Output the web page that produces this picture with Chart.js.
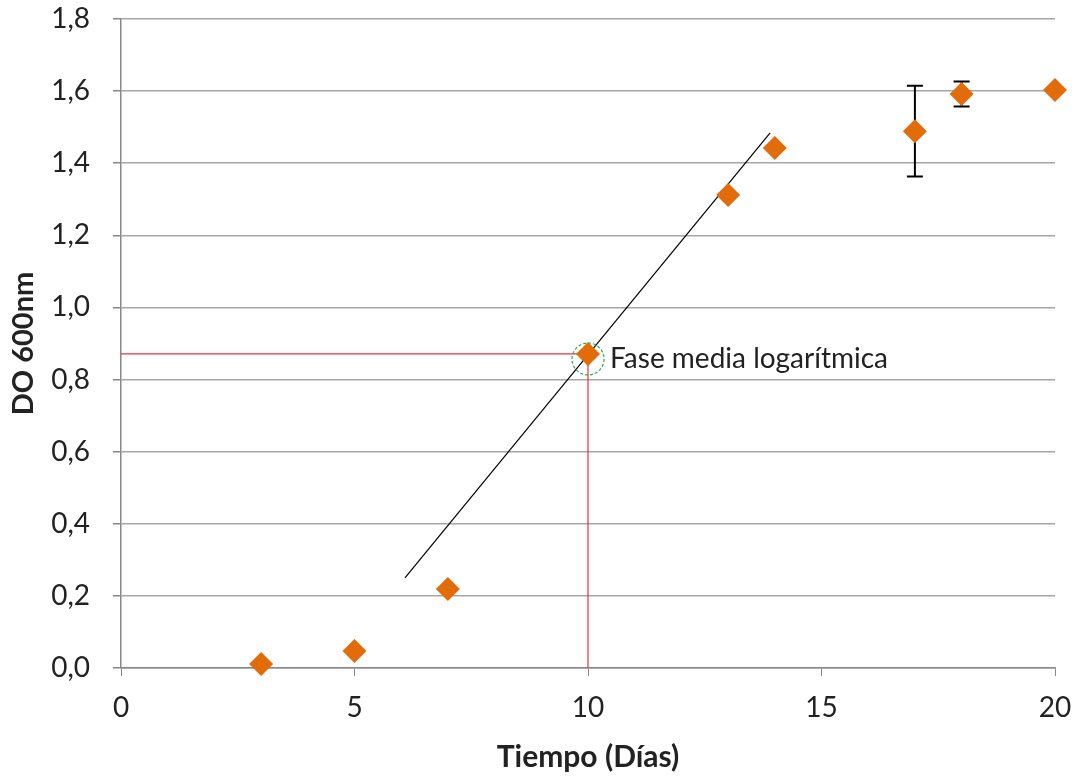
<!DOCTYPE html>
<html><head><meta charset="utf-8">
<script src="https://cdn.jsdelivr.net/npm/chart.js@4.4.1/dist/chart.umd.min.js"></script>
<style>html,body{margin:0;padding:0;background:#fff;overflow:hidden}#c{display:block}</style>
</head><body><canvas id="c" width="1078" height="776"></canvas>
<script>
const days = [3, 5, 7, 10, 13, 14, 17, 18, 20];
const od600 = [0.011, 0.047, 0.219, 0.871, 1.312, 1.442, 1.489, 1.592, 1.603];
const odError = [0, 0, 0, 0, 0, 0, 0.126, 0.035, 0];
const trendX = [6.08, 13.9];
const trendY = [0.25, 1.484];
const midDay = 10;
const midOD = 0.871;
const annotationText = 'Fase media logarítmica';
const xTicks = [0, 5, 10, 15, 20];
const yTicks = [0, 0.2, 0.4, 0.6, 0.8, 1.0, 1.2, 1.4, 1.6, 1.8];

const FONT = 'Lato, "Open Sans", sans-serif';
const ORANGE = '#E36C0A';

const overlay = {
  id: 'overlay',
  beforeDatasetsDraw(chart) {
    const {ctx, scales: {x, y}} = chart;
    ctx.save();
    ctx.strokeStyle = '#F0303A';
    ctx.lineWidth = 1.2;
    ctx.beginPath();
    ctx.moveTo(x.getPixelForValue(0), y.getPixelForValue(midOD));
    ctx.lineTo(x.getPixelForValue(midDay), y.getPixelForValue(midOD));
    ctx.lineTo(x.getPixelForValue(midDay), y.getPixelForValue(0));
    ctx.stroke();
    ctx.strokeStyle = '#000';
    ctx.lineWidth = 1.2;
    ctx.beginPath();
    ctx.moveTo(x.getPixelForValue(trendX[0]), y.getPixelForValue(trendY[0]));
    ctx.lineTo(x.getPixelForValue(trendX[1]), y.getPixelForValue(trendY[1]));
    ctx.stroke();
    ctx.strokeStyle = '#000';
    ctx.lineWidth = 2;
    days.forEach((d, i) => {
      const e = odError[i];
      if (!e) return;
      const px = x.getPixelForValue(d);
      const top = y.getPixelForValue(od600[i] + e);
      const bot = y.getPixelForValue(od600[i] - e);
      ctx.beginPath();
      ctx.moveTo(px, top); ctx.lineTo(px, bot);
      ctx.moveTo(px - 8, top); ctx.lineTo(px + 8, top);
      ctx.moveTo(px - 8, bot); ctx.lineTo(px + 8, bot);
      ctx.stroke();
    });
    ctx.restore();
  },
  afterDatasetsDraw(chart) {
    const {ctx, scales: {x, y}} = chart;
    ctx.save();
    const cx = x.getPixelForValue(midDay);
    const cy = y.getPixelForValue(midOD) + 5;
    ctx.strokeStyle = '#22B14C';
    ctx.lineWidth = 1.2;
    ctx.setLineDash([3, 2]);
    ctx.beginPath();
    ctx.arc(cx, cy, 16, 0, Math.PI * 2);
    ctx.stroke();
    ctx.setLineDash([]);
    ctx.fillStyle = '#222';
    ctx.font = '28px ' + FONT;
    ctx.textBaseline = 'middle';
    ctx.textAlign = 'left';
    ctx.fillText(annotationText, cx + 22, cy);
    ctx.restore();
  }
};

new Chart(document.getElementById('c'), {
  type: 'scatter',
  data: {
    datasets: [{
      data: days.map((d, i) => ({x: d, y: od600[i]})),
      pointStyle: 'rectRot',
      pointRadius: 12,
      pointHoverRadius: 12,
      backgroundColor: ORANGE,
      borderColor: ORANGE,
      borderWidth: 0,
      clip: false
    }]
  },
  options: {
    responsive: false,
    animation: false,
    devicePixelRatio: 1,
    layout: {padding: {left: 0, right: 23, top: 19, bottom: 0}},
    plugins: {legend: {display: false}, tooltip: {enabled: false}},
    scales: {
      x: {
        type: 'linear', min: 0, max: 20,
        afterBuildTicks: s => { s.ticks = xTicks.map(v => ({value: v})); },
        afterFit: s => { s.height = 108; s.paddingLeft = 0; s.paddingRight = 0; },
        grid: {drawOnChartArea: false, drawTicks: true, tickLength: 8, tickColor: '#888'},
        border: {color: '#888', width: 1.5},
        ticks: {font: {size: 28, family: FONT}, color: '#222', padding: 15, maxRotation: 0},
        title: {display: true, text: 'Tiempo (Días)', font: {size: 30, weight: 'bold', family: FONT}, color: '#222', padding: {top: 0, bottom: 1}}
      },
      y: {
        type: 'linear', min: 0, max: 1.8,
        afterBuildTicks: s => { s.ticks = yTicks.map(v => ({value: v})); },
        afterFit: s => { s.width = 121; s.paddingTop = 0; s.paddingBottom = 0; },
        grid: {color: '#A6A6A6', lineWidth: 1.5, tickLength: 8, tickColor: '#888'},
        border: {color: '#888', width: 1.5},
        ticks: {font: {size: 28, family: FONT}, color: '#222', padding: 23,
          callback: v => v.toFixed(1).replace('.', ',')},
        title: {display: true, text: 'DO 600nm', font: {size: 29, weight: 'bold', family: FONT}, color: '#222', padding: {top: 6, bottom: 0}}
      }
    }
  },
  plugins: [overlay]
});
</script></body></html>
